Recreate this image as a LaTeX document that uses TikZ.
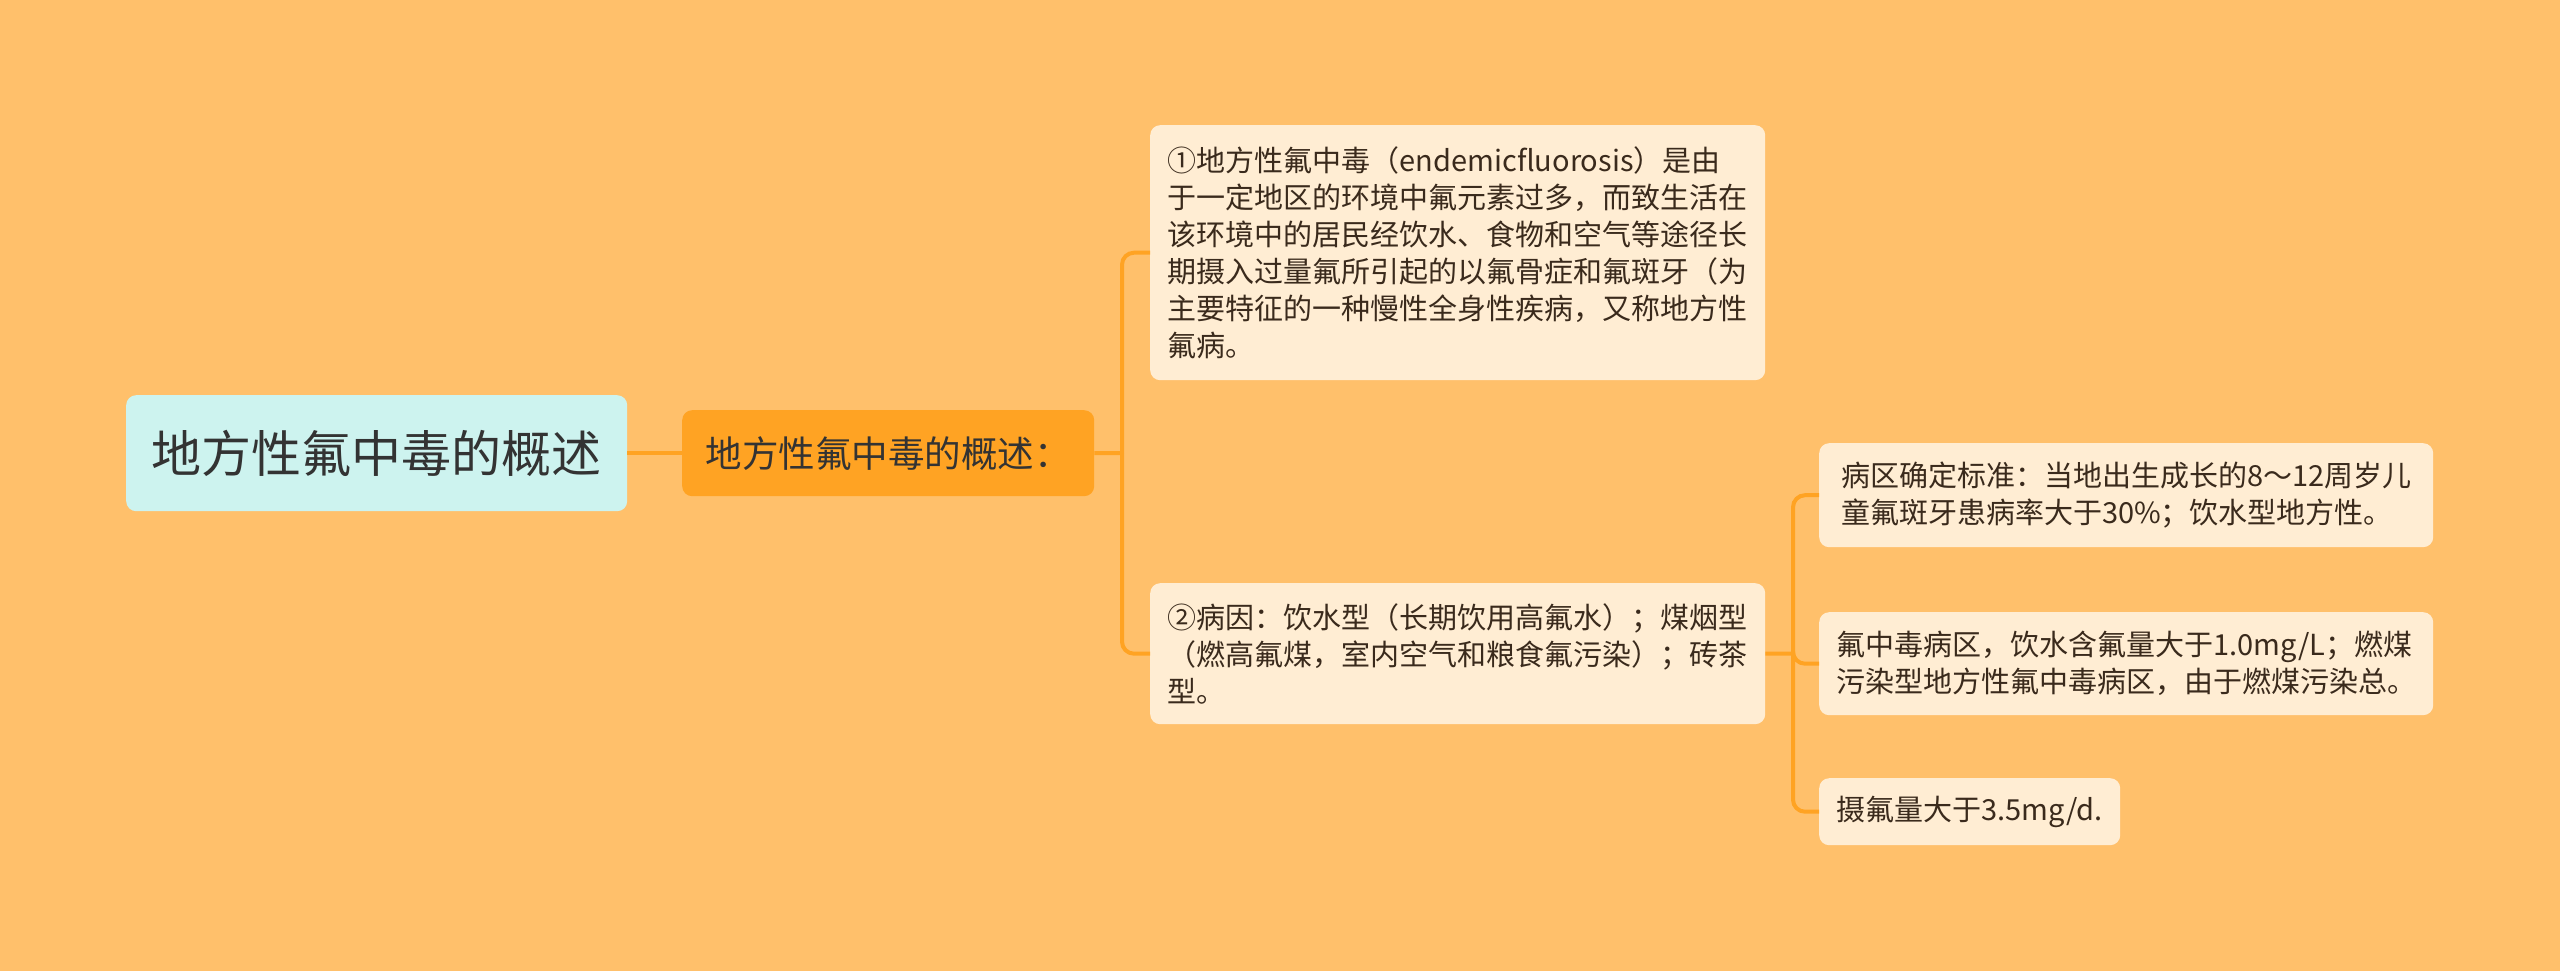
\documentclass[tikz,border=0pt]{standalone}
\usepackage{fontspec}
\setmainfont{Noto Sans CJK SC}
\usetikzlibrary{calc}
\definecolor{bgc}{HTML}{FFC06B}
\definecolor{rootc}{HTML}{CDF3EF}
\definecolor{lonec}{HTML}{FFA323}
\definecolor{leafc}{HTML}{FFEDD3}
\definecolor{linec}{HTML}{FFA323}
\definecolor{txtc}{HTML}{333333}
\definecolor{leaftxt}{HTML}{3A2A1C}
\begin{document}
\begin{tikzpicture}[x=1pt,y=-1pt,
  boxbase/.style={rounded corners=10pt, inner sep=0pt, anchor=north west, align=left},
  rootbox/.style={boxbase, fill=rootc, text=txtc, font=\fontsize{50}{60}\selectfont},
  lonebox/.style={boxbase, fill=lonec, text=txtc, font=\fontsize{36.5}{44}\selectfont},
  leafbox/.style={boxbase, fill=leafc, text=leaftxt, font=\fontsize{29}{37}\selectfont},
  conn/.style={draw=linec, line width=4pt, rounded corners=12pt}]
\fill[bgc] (0,0) rectangle (2560,971);
\useasboundingbox (0,0) rectangle (2560,971);

\node[rootbox, minimum width=501pt, minimum height=116pt] (root) at (126,395) {地方性氟中毒的概述};
\node[lonebox, minimum width=412pt, minimum height=86pt] (l1) at (682,410) {地方性氟中毒的概述：};

\node[leafbox, minimum width=615pt, minimum height=255pt] (a) at (1150,125) {①地方性氟中毒（endemicfluorosis）是由\\于一定地区的环境中氟元素过多，而致生活在\\该环境中的居民经饮水、食物和空气等途径长\\期摄入过量氟所引起的以氟骨症和氟斑牙（为\\主要特征的一种慢性全身性疾病，又称地方性\\氟病。};
\node[leafbox, minimum width=615pt, minimum height=141pt] (b) at (1150,583) {②病因：饮水型（长期饮用高氟水）；煤烟型\\（燃高氟煤，室内空气和粮食氟污染）；砖茶\\型。};

\node[leafbox, minimum width=614pt, minimum height=104pt] (c1) at (1819,443) {病区确定标准：当地出生成长的8～12周岁儿\\童氟斑牙患病率大于30\%；饮水型地方性。};
\node[leafbox, minimum width=614pt, minimum height=103pt] (c2) at (1819,612) {氟中毒病区，饮水含氟量大于1.0mg/L；燃煤\\污染型地方性氟中毒病区，由于燃煤污染总。};
\node[leafbox, minimum width=301pt, minimum height=67pt] (c3) at (1819,778) {摄氟量大于3.5mg/d.};

\draw[conn] (root.east) -- (l1.west);
\coordinate (j1) at (1122,453);
\draw[conn] (l1.east) -- (j1);
\draw[conn] (j1) |- (a.west);
\draw[conn] (j1) |- (b.west);
\coordinate (j2) at (1793,653.5);
\draw[conn] (b.east) -- (j2);
\draw[conn] (j2) |- (c1.west);
\draw[conn] (j2) |- (c2.west);
\draw[conn] (j2) |- (c3.west);
\end{tikzpicture}
\end{document}
